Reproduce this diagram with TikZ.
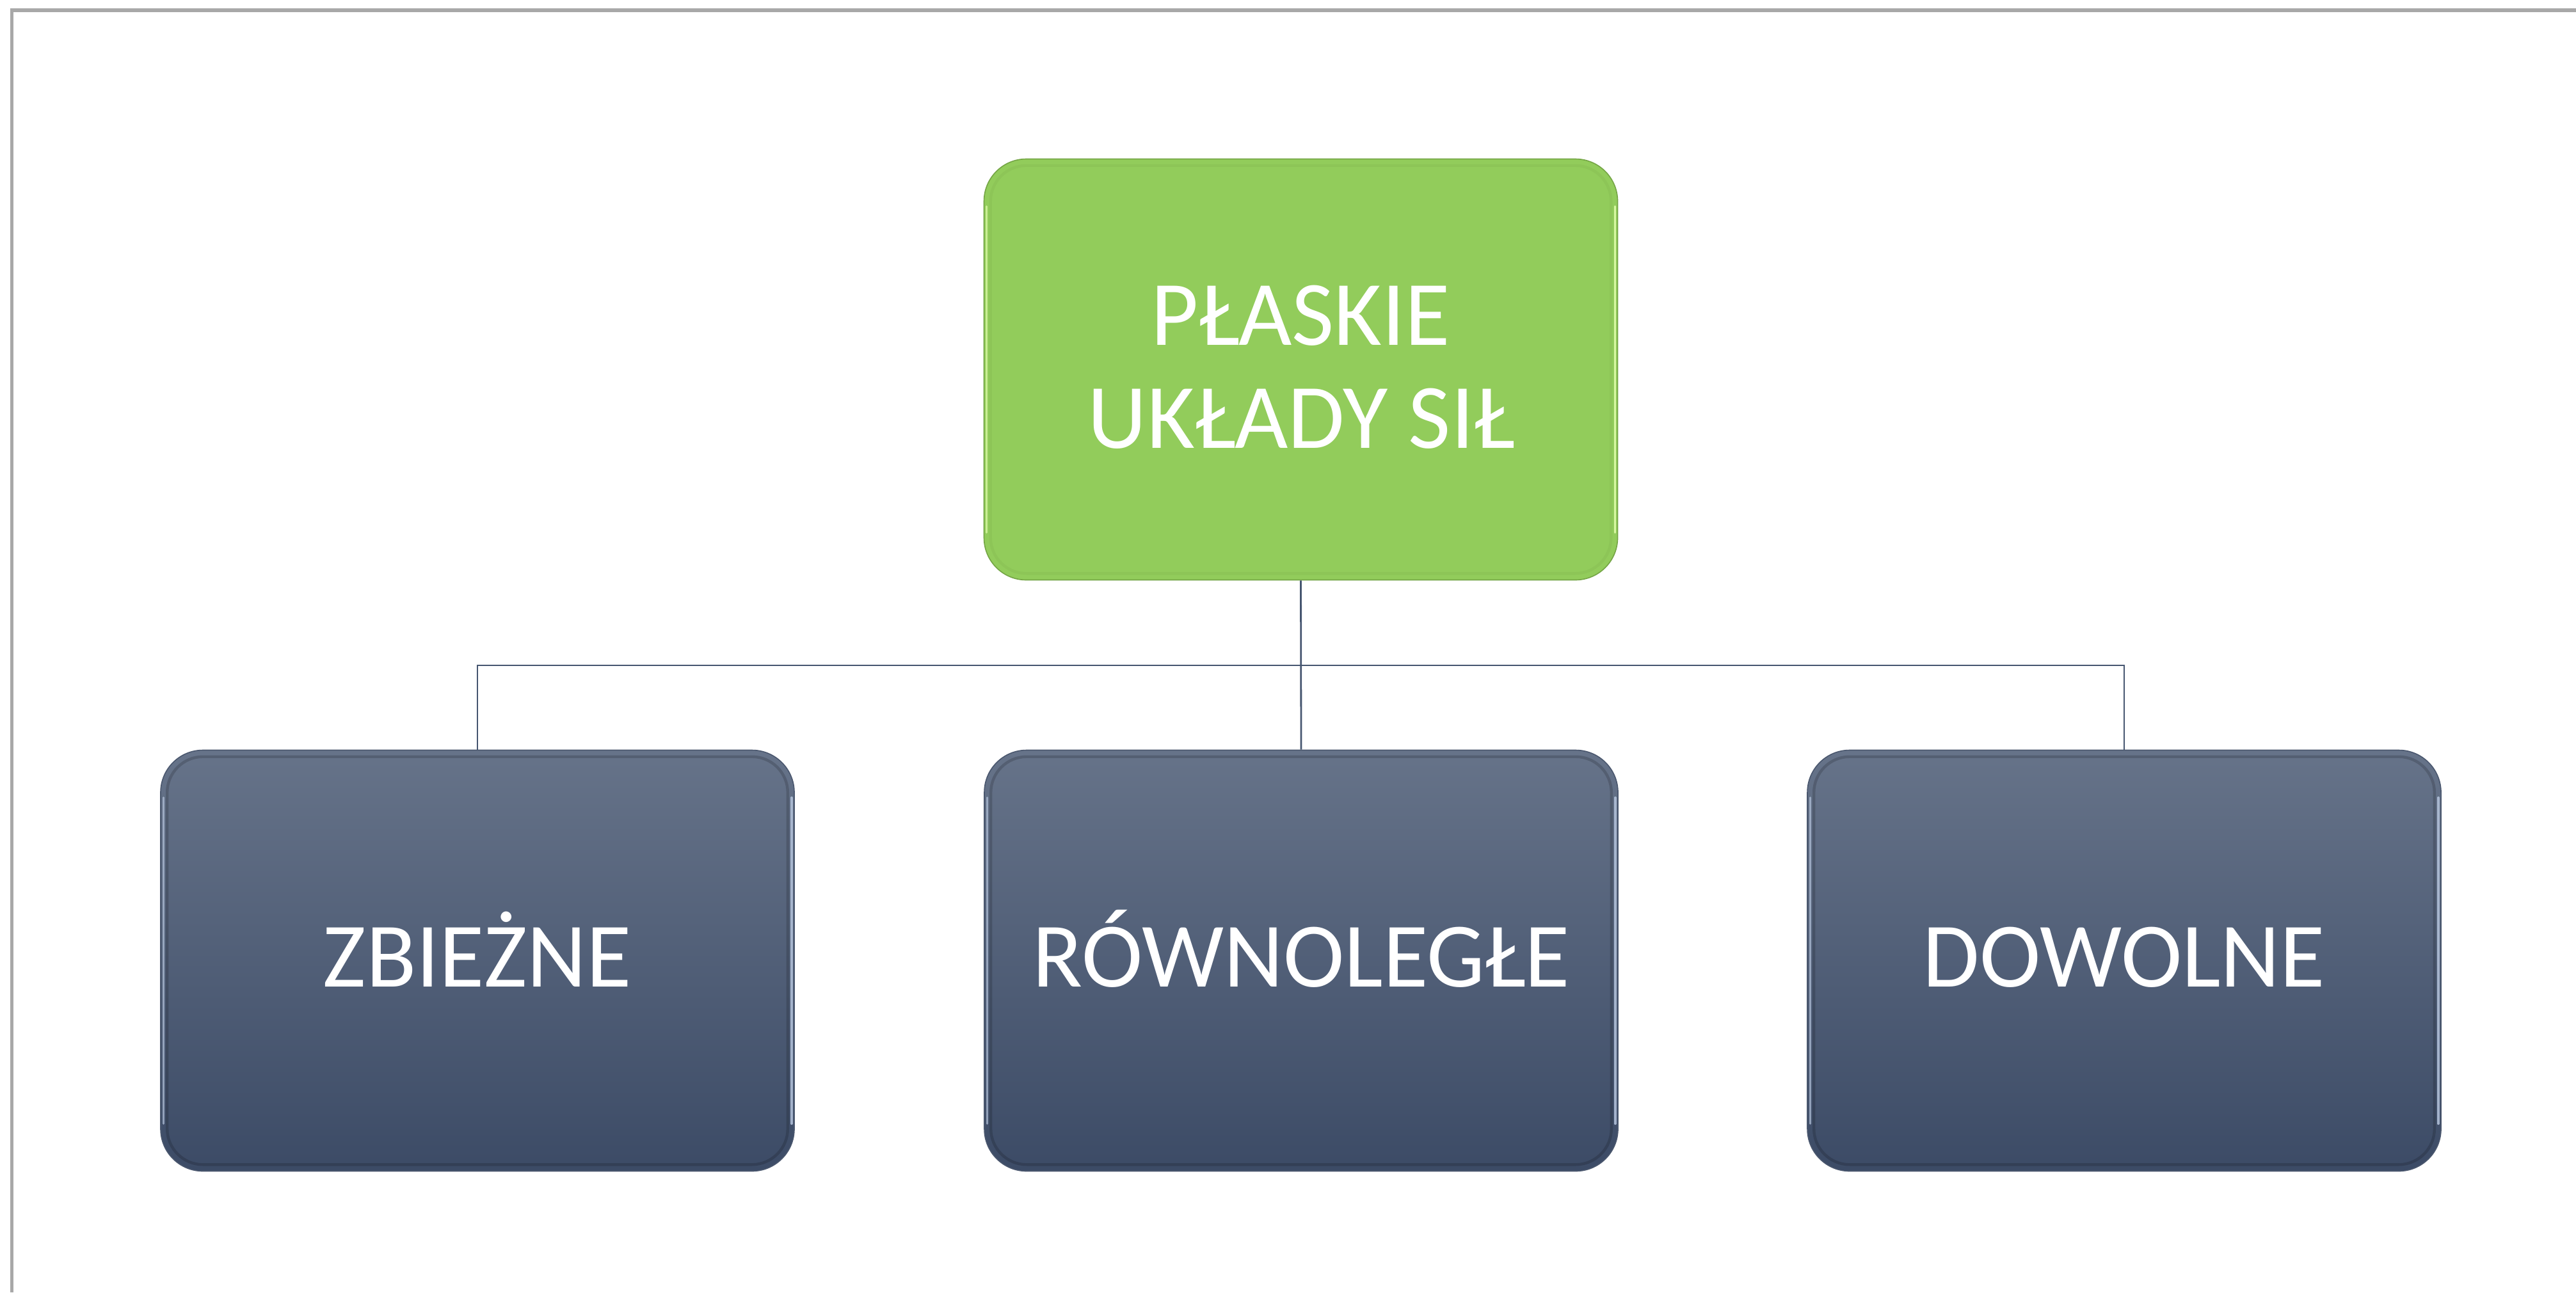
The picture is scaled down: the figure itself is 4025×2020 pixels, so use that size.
\documentclass[tikz,border=0pt]{standalone}
\usepackage{fontspec}
\setmainfont{Carlito}
\definecolor{dtop}{HTML}{667389}
\definecolor{dmid}{HTML}{4F5E78}
\definecolor{dbot}{HTML}{3C4B66}
\definecolor{dedge}{HTML}{4A576E}
\definecolor{dhl}{HTML}{B5C4DC}
\definecolor{gfill}{HTML}{92CC5B}
\definecolor{gedge}{HTML}{74A545}
\definecolor{ghl}{HTML}{E4FFAE}
\definecolor{connc}{HTML}{465670}
\definecolor{framec}{HTML}{A8A8A8}
\tikzset{
  basebox/.style={rectangle, rounded corners=33pt, minimum width=495pt, minimum height=329pt, inner sep=0pt, line width=0.8pt},
  darkbox/.style={basebox, top color=dtop, middle color=dmid, bottom color=dbot, draw=dedge},
  greenbox/.style={basebox, fill=gfill, draw=gedge},
  lbl/.style={text=white, inner sep=0pt, font=\fontsize{72}{80.5}\selectfont},
  conn/.style={draw=connc, line width=1.4pt},
  frameline/.style={draw=framec, line width=2.8pt, line join=miter},
}
\newcommand\mybevel[3]{%
  \draw[#3, line width=2.2pt, opacity=0.16, rounded corners=28pt]
    ([shift={(11,11)}]#1.north west) rectangle ([shift={(-11,-11)}]#1.south east);
  \draw[#2, line width=1.6pt, opacity=0.7, line cap=round]
    ([shift={(5,75)}]#1.north west) -- ([shift={(5,-75)}]#1.south west);
  \draw[#2, line width=1.8pt, opacity=0.85, line cap=round]
    ([shift={(-5,75)}]#1.north east) -- ([shift={(-5,-75)}]#1.south east);
}
\begin{document}
\begin{tikzpicture}[x=0.5pt,y=-0.5pt]
\useasboundingbox (0,0) rectangle (4025,2020);
\fill[white] (0,0) rectangle (4025,2020);
\draw[frameline] (18.5,2020) -- (18.5,16) -- (4025,16);

\node[greenbox] (top) at (2032.5,577.5) {};
\node[darkbox] (left) at (746,1501.5) {};
\node[darkbox] (mid) at (2033,1501.5) {};
\node[darkbox] (right) at (3319,1501.5) {};

\mybevel{top}{ghl}{gedge}
\mybevel{left}{dhl}{black}
\mybevel{mid}{dhl}{black}
\mybevel{right}{dhl}{black}

\coordinate (bus) at (2033,1040);
\draw[conn] (top.south) -- (mid.north);
\draw[conn] (top.south |- bus) -| (left.north);
\draw[conn] (top.south |- bus) -| (right.north);

\node[lbl, anchor=base] (t1) at (2032.5,539) {PŁASKIE};
\node[lbl, anchor=base] (t2) at (2032.5,700) {UKŁADY SIŁ};
\node[lbl, anchor=base] (tl) at (746,1542) {ZBIEŻNE};
\node[lbl, anchor=base] (tm) at (2033,1542) {RÓWNOLEGŁE};
\node[lbl, anchor=base] (tr) at (3319,1542) {DOWOLNE};
\end{tikzpicture}
\end{document}
